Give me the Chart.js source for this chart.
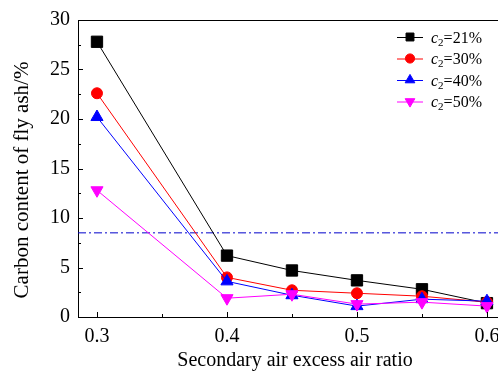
<!DOCTYPE html>
<html>
<head>
<meta charset="utf-8">
<script src="https://cdn.jsdelivr.net/npm/chart.js@4/dist/chart.umd.min.js"></script>
<style>
  html, body { margin: 0; padding: 0; background: #fff; }
  #wrap { width: 498px; height: 371px; }
</style>
</head>
<body>
<div id="wrap"><canvas id="ash" width="498" height="371"></canvas></div>
<script>
// Carbon content of fly ash vs secondary air excess ratio
const xValues = [0.3, 0.4, 0.45, 0.5, 0.55, 0.6];
const seriesLabels = ['21%', '30%', '40%', '50%'];
const c21 = [27.8, 6.2, 4.7, 3.7, 2.8, 1.4];
const c30 = [22.6, 4.0, 2.7, 2.4, 2.1, 1.5];
const c40 = [20.2, 3.6, 2.2, 1.1, 1.8, 1.6];
const c50 = [12.8, 1.9, 2.3, 1.3, 1.5, 1.1];
const limitLine = 8.5;
const xTicks = [0.3, 0.4, 0.5, 0.6];
const xMinor = [0.35, 0.45, 0.55];
const yTicks = [0, 5, 10, 15, 20, 25, 30];
const yMinor = [2.5, 7.5, 12.5, 17.5, 22.5, 27.5];

const X_MIN = 0.2854, X_MAX = 0.6085;
const SERIF = '"Liberation Serif", "Times New Roman", serif';

const pts = arr => arr.map((y, i) => ({ x: xValues[i], y }));

const STYLES = [
  { color: '#000000', style: 'rect', radius: 8, rot: 0, legendR: 5.6 },
  { color: '#ff0000', style: 'circle', radius: 5.5, rot: 0, legendR: 4.6 },
  { color: '#0000ff', style: 'triangle', radius: 7, rot: 0, legendR: 5.6 },
  { color: '#ff00ff', style: 'triangle', radius: 7, rot: 180, legendR: 5.6 }
];

const seriesData = [c21, c30, c40, c50];

const datasets = seriesData.map((d, i) => ({
  label: seriesLabels[i],
  data: pts(d),
  borderColor: STYLES[i].color,
  backgroundColor: STYLES[i].color,
  borderWidth: 1,
  pointStyle: STYLES[i].style,
  pointRadius: STYLES[i].radius,
  pointRotation: STYLES[i].rot,
  pointBorderWidth: 1,
  pointBorderColor: STYLES[i].color,
  pointBackgroundColor: STYLES[i].color,
  order: 4 - i,
  tension: 0
}));

datasets.push({
  label: 'limit',
  data: [{ x: X_MIN, y: limitLine }, { x: X_MAX, y: limitLine }],
  borderColor: '#0000cc',
  borderWidth: 1,
  borderDash: [8, 3, 2, 3],
  pointRadius: 0,
  order: 10
});

// inward ticks, x labels (allowed to run off the edge), top frame, titles, legend
const decor = {
  id: 'decor',
  afterDraw(chart) {
    const { ctx, chartArea: a, scales: { x, y } } = chart;
    ctx.save();
    ctx.strokeStyle = '#000';
    ctx.lineWidth = 1;
    ctx.beginPath();
    ctx.moveTo(a.left, a.top + 0.5);
    ctx.lineTo(a.right, a.top + 0.5);
    yTicks.forEach(v => { const p = Math.round(y.getPixelForValue(v)) + 0.5; ctx.moveTo(a.left, p); ctx.lineTo(a.left + 5, p); });
    yMinor.forEach(v => { const p = Math.round(y.getPixelForValue(v)) + 0.5; ctx.moveTo(a.left, p); ctx.lineTo(a.left + 3, p); });
    xTicks.forEach(v => { const p = Math.round(x.getPixelForValue(v)) + 0.5; ctx.moveTo(p, a.bottom); ctx.lineTo(p, a.bottom - 5); });
    xMinor.forEach(v => { const p = Math.round(x.getPixelForValue(v)) + 0.5; ctx.moveTo(p, a.bottom); ctx.lineTo(p, a.bottom - 3); });
    ctx.stroke();

    ctx.fillStyle = '#000';
    ctx.font = '20px ' + SERIF;
    ctx.textAlign = 'center';
    ctx.textBaseline = 'middle';
    xTicks.forEach(v => ctx.fillText(v.toFixed(1), x.getPixelForValue(v), a.bottom + 20));
    ctx.fillText('Secondary air excess air ratio', 295, 361);
    ctx.save();
    ctx.translate(22, 180);
    ctx.rotate(-Math.PI / 2);
    ctx.font = '21px ' + SERIF;
    ctx.fillText('Carbon content of fly ash/%', 0, 0);
    ctx.restore();

    // legend
    const rowY = [37, 58.5, 80, 101.5];
    seriesLabels.forEach((lab, i) => {
      const s = STYLES[i];
      const yy = rowY[i];
      ctx.strokeStyle = s.color;
      ctx.beginPath();
      ctx.moveTo(397, yy + 0.5);
      ctx.lineTo(423, yy + 0.5);
      ctx.stroke();
      ctx.fillStyle = s.color;
      Chart.helpers.drawPoint(ctx, {
        pointStyle: s.style, radius: s.legendR, rotation: s.rot, borderWidth: 1
      }, 410, yy);
      ctx.fillStyle = '#000';
      ctx.textAlign = 'left';
      ctx.textBaseline = 'alphabetic';
      let tx = 431;
      const base = yy + 5.5;
      ctx.font = 'italic 16px ' + SERIF;
      ctx.fillText('c', tx, base);
      tx += ctx.measureText('c').width;
      ctx.font = '11px ' + SERIF;
      ctx.fillText('2', tx, base + 3);
      tx += ctx.measureText('2').width;
      ctx.font = '16px ' + SERIF;
      ctx.fillText('=' + lab, tx, base);
    });
    ctx.restore();
  }
};

new Chart(document.getElementById('ash'), {
  type: 'line',
  data: { datasets },
  options: {
    responsive: false,
    animation: false,
    devicePixelRatio: 1,
    layout: { autoPadding: false, padding: { top: 20, left: 0, right: 0, bottom: 0 } },
    plugins: { legend: { display: false }, tooltip: { enabled: false } },
    scales: {
      x: {
        type: 'linear',
        min: X_MIN, max: X_MAX,
        afterBuildTicks: s => { s.ticks = xTicks.map(v => ({ value: v })); },
        afterFit: s => { s.height = 54; },
        grid: { display: false, drawTicks: false },
        border: { display: true, color: '#000', width: 1 },
        ticks: { display: false }
      },
      y: {
        min: 0, max: 30,
        afterBuildTicks: s => { s.ticks = yTicks.map(v => ({ value: v })); },
        afterFit: s => { s.width = 78; },
        grid: { display: false, drawTicks: false },
        border: { display: true, color: '#000', width: 1 },
        ticks: {
          padding: 8,
          color: '#000',
          font: { family: SERIF, size: 20 }
        }
      }
    }
  },
  plugins: [decor]
});
</script>
</body>
</html>
